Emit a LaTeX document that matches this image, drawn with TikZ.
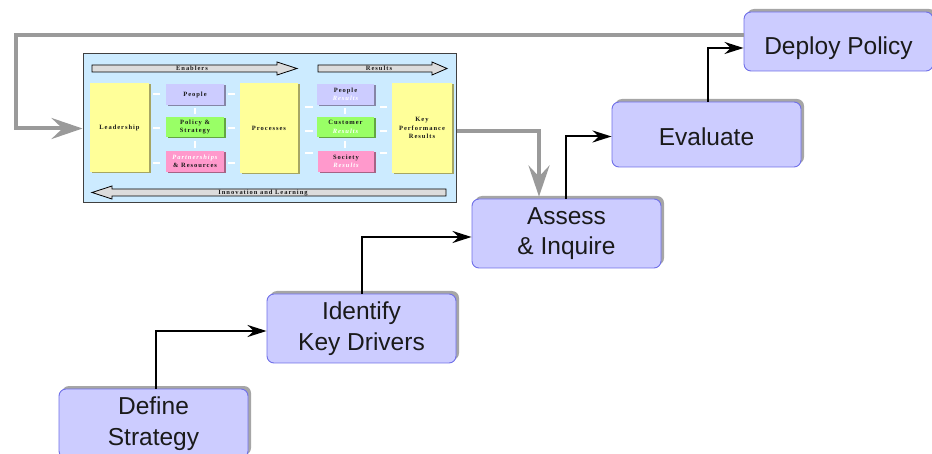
\documentclass[tikz,border=0pt]{standalone}
\usepackage{fontspec}
\usetikzlibrary{arrows.meta,shadows}
\newfontfamily\boxfont{Liberation Sans}
\newfontfamily\efqmfont[LetterSpace=15]{Liberation Serif}

\definecolor{stepfill}{HTML}{CCCCFF}
\definecolor{stepline}{HTML}{6F6FE8}
\definecolor{stepshadow}{HTML}{A6A6A6}
\definecolor{loopgray}{HTML}{9A9A9A}
\definecolor{panelblue}{HTML}{CCEBFF}
\definecolor{yellowbox}{HTML}{FFFF99}
\definecolor{lavbox}{HTML}{CCCCFF}
\definecolor{greenbox}{HTML}{99FF66}
\definecolor{pinkbox}{HTML}{FF99CC}
\definecolor{bandgray}{HTML}{DCDCDC}
\definecolor{inktext}{HTML}{1A1A1A}

% white italic sub-label inside a criterion box
\newcommand\sublabel[1]{\textcolor{white}{\itshape #1}}

\begin{document}
\begin{tikzpicture}[x=1pt,y=-1pt,
  stepbox/.style={draw=stepline, line width=0.9pt, fill=stepfill,
    rounded corners=7pt, minimum width=189pt, inner sep=0pt, align=center,
    text=inktext, font=\boxfont\fontsize{24.5}{30.5}\selectfont,
    drop shadow={shadow xshift=3pt, shadow yshift=3pt, fill=stepshadow, opacity=1}},
  flow/.style={draw=black, line width=2pt, -{Stealth[length=19pt,width=12pt,inset=6pt]}},
  loop/.style={draw=loopgray, line width=4pt, -{Stealth[length=31pt,width=21pt,inset=11pt]}},
  panel/.style={draw=black!75, line width=1pt, fill=panelblue, inner sep=0pt},
  efqmbox/.style={fill=#1, inner sep=0pt, align=center, text=inktext,
    font=\efqmfont\bfseries\fontsize{6.5}{8.3}\selectfont,
    drop shadow={shadow xshift=1.5pt, shadow yshift=-1.5pt, fill=#1!65!black, opacity=1}},
  band/.style={draw=black, line width=0.8pt, fill=bandgray},
  bandtext/.style={inner sep=0pt, text=inktext, font=\efqmfont\bfseries\fontsize{6.5}{7}\selectfont},
  link/.style={draw=white, line width=1.5pt}
]
\useasboundingbox (0,0) rectangle (932,454);

% ---- process steps ----
\node[stepbox, minimum height=59pt, text height=27pt, text depth=0pt] (deploy) at (838.5,41.5) {Deploy Policy};
\node[stepbox, minimum height=65pt, text height=22.4pt, text depth=0pt] (evaluate) at (706.5,134.5) {Evaluate};
\node[stepbox, minimum height=69pt] (assess)   at (566.5,233.5) {Assess\\\& Inquire};
\node[stepbox, minimum height=69pt] (identify) at (361.5,328.5) {Identify\\Key Drivers};
\node[stepbox, minimum height=69pt] (define)   at (153.5,423.5) {Define\\Strategy};

% ---- excellence model panel ----
\node[panel, minimum width=373pt, minimum height=149pt] (efqm) at (269.5,128.5) {};

\path[band] (92,65) -- (277,65) -- (277,62) -- (297,68.5) -- (277,75) -- (277,72) -- (92,72) -- cycle;
\node[bandtext] (enablers) at (192,68.5) {Enablers};
\path[band] (318,65) -- (432,65) -- (432,62) -- (447,68.5) -- (432,75) -- (432,72) -- (318,72) -- cycle;
\node[bandtext] (results) at (379,68.5) {Results};
\path[band] (92,192.5) -- (112,186) -- (112,189) -- (446,189) -- (446,196) -- (112,196) -- (112,199) -- cycle;
\node[bandtext] (innov) at (263,192.5) {Innovation and Learning};

% white links between the criteria
\foreach \y in {94,128,163} {
  \draw[link] (153,\y) -- (160,\y);
  \draw[link] (228,\y) -- (235,\y);
}
\foreach \y in {107,131,153} {
  \draw[link] (305,\y) -- (313,\y);
  \draw[link] (380,\y) -- (387,\y);
}
\foreach \x in {195,345} {
  \draw[link] (\x,108) -- (\x,114);
  \draw[link] (\x,141) -- (\x,148);
}

\node[efqmbox=yellowbox, minimum width=59pt, minimum height=89pt] (lead) at (119.5,127.5) {Leadership};
\node[efqmbox=lavbox, minimum width=58pt, minimum height=21pt] (people) at (195,94.5) {People};
\node[efqmbox=greenbox, minimum width=58pt, minimum height=20pt] (policy) at (195,127) {Policy \&\\Strategy};
\node[efqmbox=pinkbox, minimum width=58pt, minimum height=21pt] (partner) at (195,161.5) {\sublabel{Partnerships}\\\& Resources};
\node[efqmbox=yellowbox, minimum width=58pt, minimum height=90pt] (proc) at (269,128) {Processes};
\node[efqmbox=lavbox, minimum width=57pt, minimum height=21pt] (presults) at (345.5,94.5) {People\\\sublabel{Results}};
\node[efqmbox=greenbox, minimum width=57pt, minimum height=20pt] (cust) at (345.5,127) {Customer\\\sublabel{Results}};
\node[efqmbox=pinkbox, minimum width=56pt, minimum height=21pt] (society) at (346,161.5) {Society\\\sublabel{Results}};
\node[efqmbox=yellowbox, minimum width=60pt, minimum height=90pt] (kpr) at (422,128) {Key\\Performance\\Results};

% ---- feedback loop ----
\coordinate (loopTL) at (15.5,35);
\coordinate (loopBL) at (15.5,128.5);
\draw[loop] ([yshift=6.5pt]deploy.west) -- (loopTL) -- (loopBL) -- (efqm.west);
\draw[loop, shorten >=2pt] ([yshift=-2.5pt]efqm.east) -| ([xshift=-27.5pt]assess.north);

% ---- step connectors ----
\draw[flow] ([xshift=2.5pt]define.north) |- ([yshift=-2.5pt]identify.west);
\draw[flow] ([xshift=0.5pt]identify.north) |- ([yshift=-3.5pt]assess.west);
\draw[flow] ([xshift=-0.5pt]assess.north) |- ([yshift=-2pt]evaluate.west);
\draw[flow] ([xshift=1.5pt]evaluate.north) |- ([yshift=-6.5pt]deploy.west);
\end{tikzpicture}
\end{document}
